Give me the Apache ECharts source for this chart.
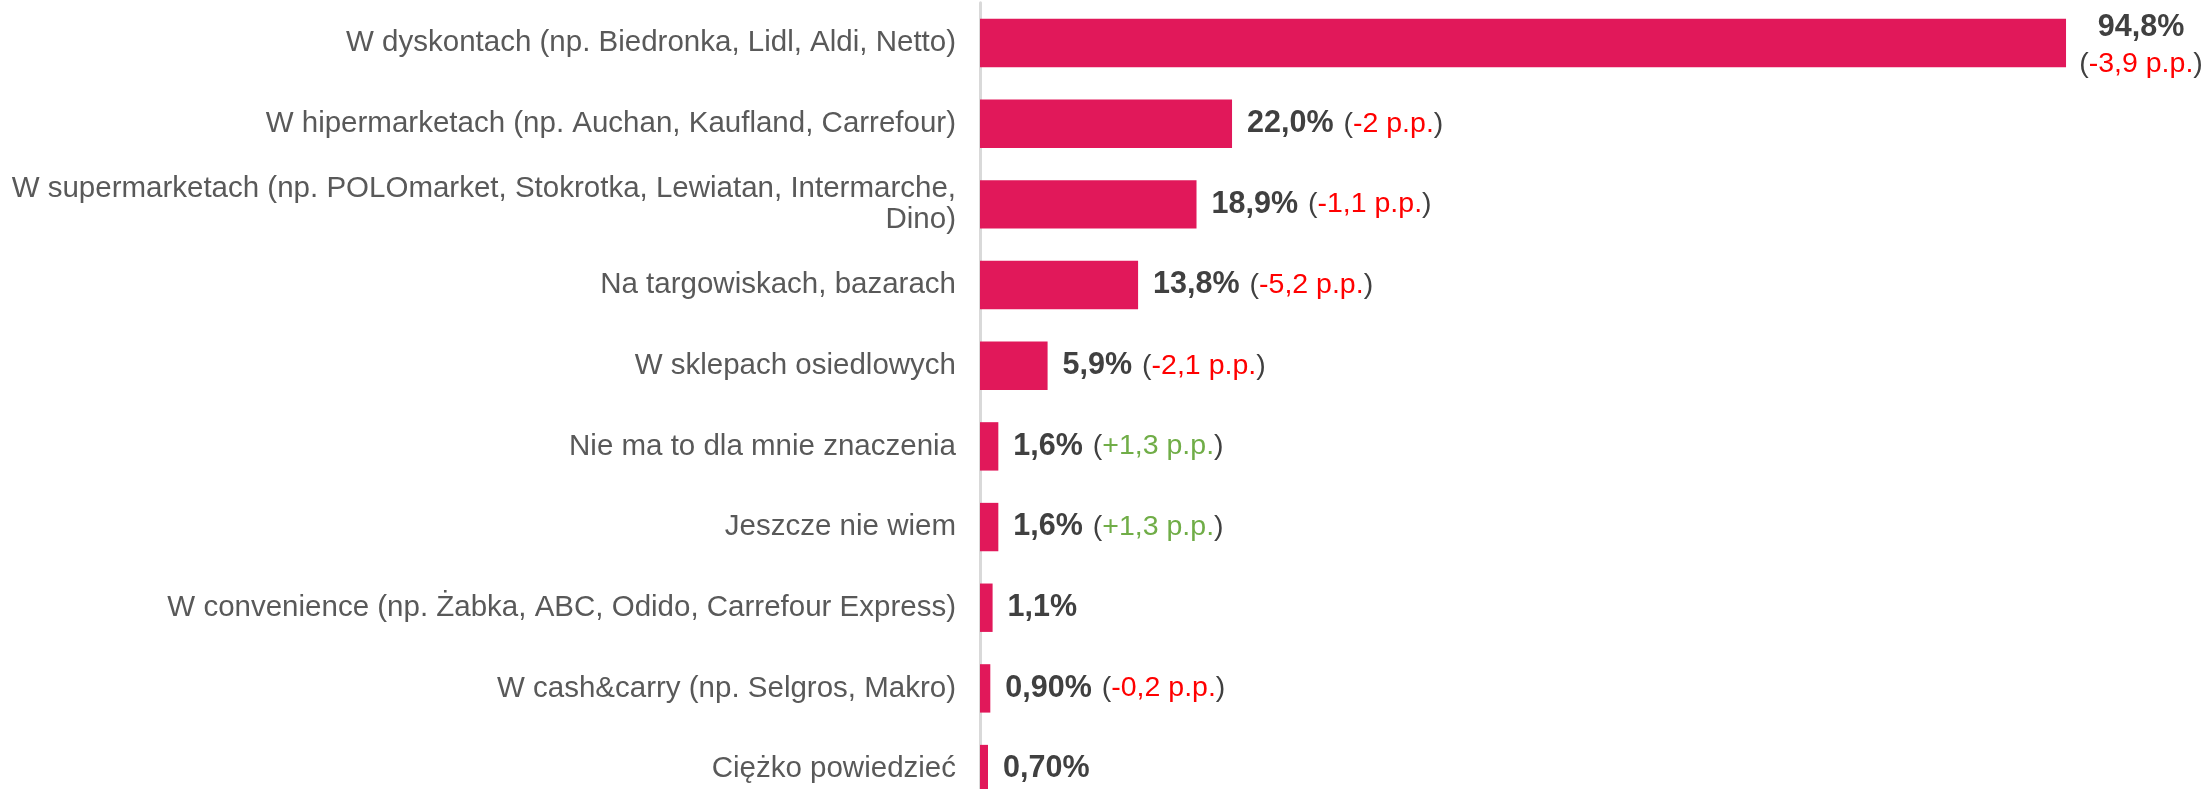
<!DOCTYPE html>
<html>
<head>
<meta charset="utf-8">
<script src="https://cdn.jsdelivr.net/npm/echarts@6/dist/echarts.min.js"></script>
<style>
  html, body { margin: 0; padding: 0; background: #fff; }
  #chart { width: 2211px; height: 789px; }
</style>
</head>
<body>
<div id="chart"></div>
<script>
const categories = [
  'W dyskontach (np. Biedronka, Lidl, Aldi, Netto)',
  'W hipermarketach (np. Auchan, Kaufland, Carrefour)',
  'W supermarketach (np. POLOmarket, Stokrotka, Lewiatan, Intermarche,\nDino)',
  'Na targowiskach, bazarach',
  'W sklepach osiedlowych',
  'Nie ma to dla mnie znaczenia',
  'Jeszcze nie wiem',
  'W convenience (np. Żabka, ABC, Odido, Carrefour Express)',
  'W cash&carry (np. Selgros, Makro)',
  'Ciężko powiedzieć'
]
const values = [94.8, 22.0, 18.9, 13.8, 5.9, 1.6, 1.6, 1.1, 0.9, 0.7]
const valueLabels = ['94,8%', '22,0%', '18,9%', '13,8%', '5,9%', '1,6%', '1,6%', '1,1%', '0,90%', '0,70%']
const changes = ['-3,9', '-2', '-1,1', '-5,2', '-2,1', '+1,3', '+1,3', null, '-0,2', null]

const richStyles = {
  v: { fontFamily: 'Liberation Sans', fontSize: 30.5, fontWeight: 'bold', color: '#404040', lineHeight: 37 },
  p: { fontFamily: 'Liberation Sans', fontSize: 28.5, color: '#404040', lineHeight: 37 },
  gap: { fontFamily: 'Liberation Sans', fontSize: 28.5, lineHeight: 37, width: 10 },
  neg: { fontFamily: 'Liberation Sans', fontSize: 28.5, color: '#FF0000', lineHeight: 37 },
  pos: { fontFamily: 'Liberation Sans', fontSize: 28.5, color: '#70AD47', lineHeight: 37 }
}

function changeText(i) {
  const c = changes[i]
  if (!c) return ''
  const key = c[0] === '+' ? 'pos' : 'neg'
  return '{p|(}{' + key + '|' + c + ' p.p.}{p|)}'
}

const seriesData = values.map((v, i) => {
  const item = { value: v }
  if (i === 0) {
    // the big bar: value on top, change below, centered
    item.label = {
      align: 'center',
      distance: 75,
      offset: [0, 3],
      formatter: () => '{v|' + valueLabels[i] + '}\n' + changeText(i)
    }
  }
  return item
})

const chart = echarts.init(document.getElementById('chart'))
chart.setOption({
  animation: false,
  grid: {
    left: 980,
    top: 2.7,
    width: 1145.6,
    height: 806.7,
    outerBoundsMode: 'none',
    containLabel: false
  },
  xAxis: {
    type: 'value',
    min: 0,
    max: 100,
    show: false
  },
  yAxis: {
    type: 'category',
    inverse: true,
    data: categories,
    axisLine: { show: true, lineStyle: { color: '#D9D9D9', width: 3 } },
    axisTick: { show: false },
    axisLabel: {
      margin: 24,
      fontFamily: 'Liberation Sans',
      fontSize: 29.5,
      lineHeight: 31,
      color: '#595959',
      align: 'right'
    }
  },
  series: [
    {
      type: 'bar',
      data: seriesData,
      barCategoryGap: '40%',
      itemStyle: { color: '#E1185A' },
      label: {
        show: true,
        position: 'right',
        distance: 15,
        rich: richStyles,
        formatter: p => {
          const ch = changeText(p.dataIndex)
          return '{v|' + valueLabels[p.dataIndex] + '}' + (ch ? '{gap|}' + ch : '')
        }
      }
    }
  ]
})
</script>
</body>
</html>
